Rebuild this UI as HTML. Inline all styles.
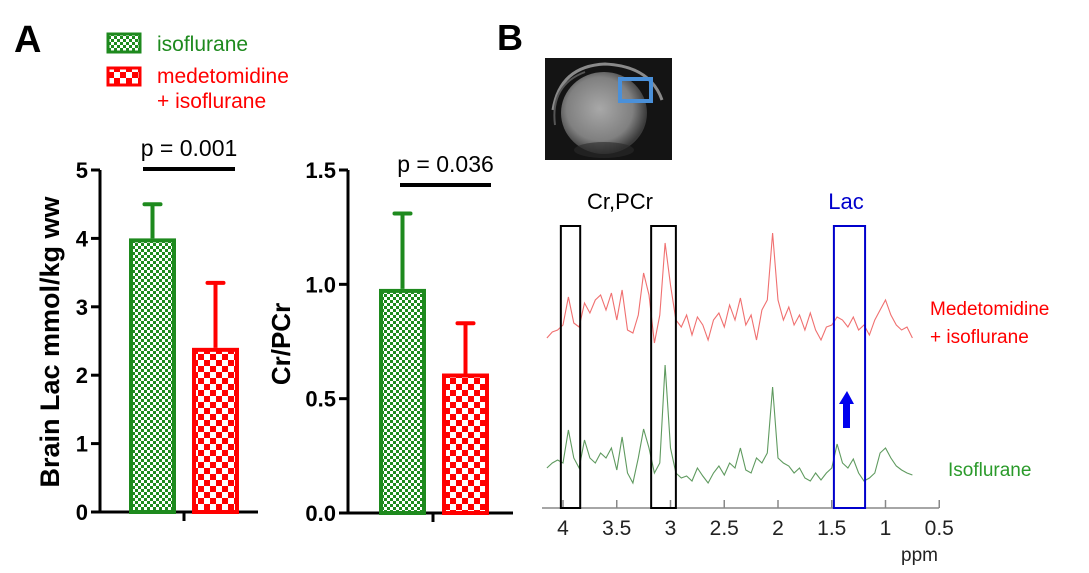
<!DOCTYPE html>
<html><head><meta charset="utf-8"><style>
html,body{margin:0;padding:0;background:#fff;}
svg{display:block;font-family:"Liberation Sans",sans-serif;}
</style></head><body>
<svg width="1089" height="573" viewBox="0 0 1089 573">
<defs>
<pattern id="gchk" width="6" height="6" patternUnits="userSpaceOnUse">
<rect width="6" height="6" fill="#fff"/><rect width="3" height="3" fill="#1e8a1e"/><rect x="3" y="3" width="3" height="3" fill="#1e8a1e"/></pattern>
<pattern id="rchk" width="12" height="12" patternUnits="userSpaceOnUse">
<rect width="12" height="12" fill="#fff"/><rect width="6" height="6" fill="#f00"/><rect x="6" y="6" width="6" height="6" fill="#f00"/></pattern>
<radialGradient id="brain" cx="0.45" cy="0.45" r="0.55"><stop offset="0" stop-color="#a8a8a8"/><stop offset="0.7" stop-color="#808080"/><stop offset="1" stop-color="#3a3a3a"/></radialGradient>
</defs>

<text x="14" y="52" font-size="38" font-weight="bold">A</text>
<text x="497" y="50" font-size="36" font-weight="bold">B</text>

<g>
<rect x="108" y="34" width="32" height="18" fill="url(#gchk)" stroke="#1e8a1e" stroke-width="3"/>
<text x="157" y="51" font-size="21" fill="#1e8a1e">isoflurane</text>
<rect x="108" y="68" width="32" height="17" fill="url(#rchk)" stroke="#f00" stroke-width="3"/>
<text x="157" y="83" font-size="21" fill="#f00">medetomidine</text>
<text x="157" y="108" font-size="21" fill="#f00">+ isoflurane</text>
</g>

<g id="chart1"></g>
<g id="chart2"></g>

<g>
<rect x="545" y="58" width="127" height="102" fill="#141414"/>
<path d="M553,110 Q560,66 605,64 Q650,66 662,100" fill="none" stroke="#8a8a8a" stroke-width="3"/>
<path d="M555,125 Q550,85 585,72" fill="none" stroke="#555" stroke-width="2"/>
<ellipse cx="604" cy="113" rx="43" ry="41" fill="url(#brain)"/>
<ellipse cx="604" cy="150" rx="30" ry="8" fill="#2a2a2a" opacity="0.6"/>
<rect x="620" y="79" width="31" height="22" fill="none" stroke="#4a90d9" stroke-width="4"/>
</g>

<g id="spectra"></g>
</svg>
<script>
// ---- Bar chart data ----
const groups = ["isoflurane", "medetomidine + isoflurane"];
const lacMeans = [4.0, 2.4];
const lacErr = [0.5, 0.95];
const lacTicks = [0,1,2,3,4,5];
const crMeans = [0.98, 0.61];
const crErr = [0.33, 0.22];
const crTicks = ["0.0","0.5","1.0","1.5"];
const pValues = ["p = 0.001", "p = 0.036"];

// ---- Spectrum data (ppm grid 4.15 -> 0.75 step 0.05), intensity in display units ----
const ppmStart = 4.15, ppmStep = 0.05;
const redSpec = [-3,3,5,10,38,12,8,32,22,35,40,25,42,15,45,5,2,20,62,40,-8,20,92,50,15,8,20,0,18,10,-5,15,22,8,30,15,37,10,20,-5,25,35,102,35,15,28,10,20,5,22,5,-5,8,10,18,15,8,18,5,10,0,15,25,35,20,10,5,8,-3];
const greenSpec = [10,15,18,15,48,20,10,38,20,15,25,20,30,8,41,5,-5,20,49,30,5,15,113,30,5,0,2,-3,10,2,-5,5,12,3,15,10,30,8,5,20,15,25,91,20,15,12,5,10,0,-3,5,-2,5,10,34,15,10,19,5,-3,0,5,25,30,20,12,8,5,3];
const ppmTicks = ["4","3.5","3","2.5","2","1.5","1","0.5"];

const NS="http://www.w3.org/2000/svg";
function mk(parent, tag, attrs){const e=document.createElementNS(NS,tag);for(const k in attrs)e.setAttribute(k,attrs[k]);parent.appendChild(e);return e;}

function barChart(g, cfg){
  const y = v => cfg.y0 - (v/cfg.max)*(cfg.y0-cfg.yTop);
  const ax=mk(g,'line',{x1:cfg.ax,y1:cfg.yTop,x2:cfg.ax,y2:cfg.y0,stroke:'#000','stroke-width':3});
  
  
  const xa=mk(g,'line',{x1:cfg.ax-9,y1:cfg.y0,x2:cfg.xEnd,y2:cfg.y0,stroke:'#000','stroke-width':3});
  
  
  mk(g,'line',{x1:cfg.xTick,y1:cfg.y0,x2:cfg.xTick,y2:cfg.y0+9,stroke:'#000','stroke-width':3});
  cfg.ticks.forEach(t=>{
    const yy=y(parseFloat(t));
    mk(g,'line',{x1:cfg.ax-9,y1:yy,x2:cfg.ax,y2:yy,stroke:'#000','stroke-width':3});
    const tx=mk(g,'text',{x:cfg.ax-12,y:yy+8,'font-size':22,'font-weight':'bold','text-anchor':'end'});
    tx.textContent=t;
    
    
  });
  const lab=mk(g,'text',{x:0,y:0,'font-size':cfg.labSize,'font-weight':'bold','text-anchor':'middle',transform:`translate(${cfg.labX},${cfg.labY}) rotate(-90)`});
  lab.textContent=cfg.label;
  
  
  const cols=['#1e8a1e','#f00'], fills=['url(#gchk)','url(#rchk)'];
  cfg.means.forEach((m,i)=>{
    const x=cfg.bx[i], w=cfg.bw, top=y(m), et=y(m+cfg.err[i]);
    mk(g,'line',{x1:x+w/2,y1:top,x2:x+w/2,y2:et,stroke:cols[i],'stroke-width':4});
    mk(g,'line',{x1:x+w/2-8,y1:et,x2:x+w/2+8,y2:et,stroke:cols[i],'stroke-width':4,'stroke-linecap':'round'});
    const b=mk(g,'rect',{x:x+2,y:top+2,width:w-4,height:cfg.y0-top-2,fill:fills[i],stroke:cols[i],'stroke-width':4});
    
    
  });
  mk(g,'line',{x1:cfg.p[0],y1:cfg.p[2],x2:cfg.p[1],y2:cfg.p[2],stroke:'#000','stroke-width':4});
  const pt=mk(g,'text',{x:(cfg.p[0]+cfg.p[1])/2,y:cfg.p[2]-13,'font-size':23,'text-anchor':'middle'});
  pt.textContent=cfg.pText;
  
  
}
barChart(document.getElementById('chart1'),{ax:100,y0:512,yTop:170,max:5,xEnd:258,xTick:184,ticks:lacTicks.map(String),
  label:'Brain Lac mmol/kg ww',labSize:27,labX:59,labY:342,means:lacMeans,err:lacErr,bx:[129,192],bw:47,p:[143,235,169],pText:pValues[0]});
barChart(document.getElementById('chart2'),{ax:348,y0:513,yTop:170,max:1.5,xEnd:513,xTick:433,ticks:crTicks,
  label:'Cr/PCr',labSize:26,labX:290,labY:344,means:crMeans,err:crErr,bx:[379,442],bw:47,p:[400,491,185],pText:pValues[1]});

// ---- Spectra ----
const sp=document.getElementById('spectra');
const px = ppm => 563 + (4-ppm)*107.5;
const axY=508;
const axl=mk(sp,'line',{x1:542,y1:axY,x2:939,y2:axY,stroke:'#888','stroke-width':1.5});


ppmTicks.forEach(t=>{
  const x=px(parseFloat(t));
  mk(sp,'line',{x1:x,y1:axY-8,x2:x,y2:axY,stroke:'#888','stroke-width':1.5});
  const tx=mk(sp,'text',{x:x,y:535,'font-size':21,'text-anchor':'middle',fill:'#222'});
  tx.textContent=t;
  
  
});
const ppmL=mk(sp,'text',{x:938,y:561,'font-size':19,'text-anchor':'end',fill:'#222'});
ppmL.textContent='ppm';



function trace(arr, base, color, name){
  const d=arr.map((v,i)=>(i?'L':'M')+px(ppmStart-i*ppmStep).toFixed(1)+','+(base-v).toFixed(1)).join(' ');
  const p=mk(sp,'path',{d:d,fill:'none',stroke:color,'stroke-width':1.1});
  
  
}
trace(redSpec,335,'#f07070','spectrum-medetomidine');
trace(greenSpec,478,'#5f9a5f','spectrum-isoflurane');

function box(ppmL_,ppmR,color,name){
  const b=mk(sp,'rect',{x:px(ppmL_),y:226,width:px(ppmR)-px(ppmL_),height:axY-226,fill:'none',stroke:color,'stroke-width':2});
  
  
}
box(4.02,3.84,'#000','cr-box-1');
box(3.18,2.95,'#000','cr-box-2');
box(1.48,1.19,'#0000cc','lac-box');

const t1=mk(sp,'text',{x:620,y:209,'font-size':22,'text-anchor':'middle'});t1.textContent='Cr,PCr';


const t2=mk(sp,'text',{x:846,y:209,'font-size':22,'text-anchor':'middle',fill:'#0000cc'});t2.textContent='Lac';


const ar=mk(sp,'path',{d:'M847,391 L854,404 L850,404 L850,428 L843,428 L843,404 L839,404 Z',fill:'#0000ee'});


const l1=mk(sp,'text',{x:930,y:315,'font-size':19,fill:'#f00'});l1.textContent='Medetomidine';


const l2=mk(sp,'text',{x:930,y:343,'font-size':19,fill:'#f00'});l2.textContent='+ isoflurane';


const l3=mk(sp,'text',{x:948,y:476,'font-size':19,fill:'#2a9a2a'});l3.textContent='Isoflurane';


</script>
</body></html>
